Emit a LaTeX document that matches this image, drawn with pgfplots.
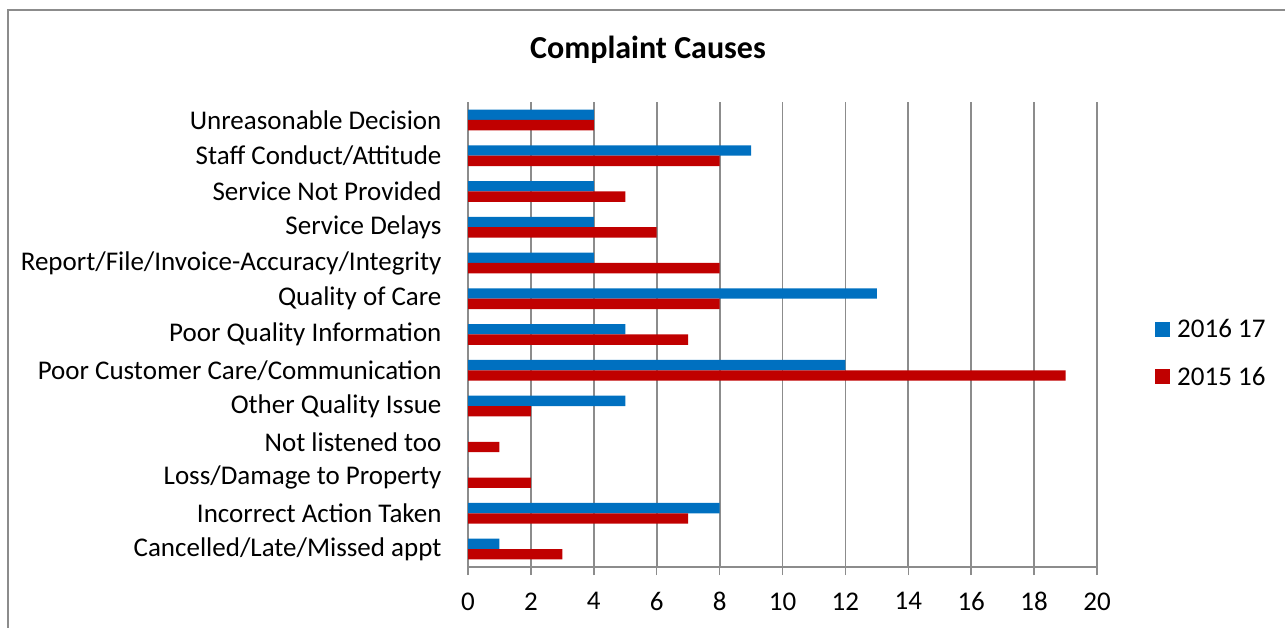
\documentclass[border=0pt]{standalone}
\usepackage{pgfplots}
\pgfplotsset{compat=1.18}
\usepackage{fontspec}
\setmainfont{Carlito}
\definecolor{cblue}{HTML}{0070C0}
\definecolor{cred}{HTML}{C00000}
\definecolor{cgray}{HTML}{8C8C8C}
\pgfplotstableread{
y a b
0 1 3
1 8 7
2 0 2
3 0 1
4 5 2
5 12 19
6 5 7
7 13 8
8 4 8
9 4 6
10 4 5
11 9 8
12 4 4
}\datatable
\begin{document}
\begin{tikzpicture}[font=\fontsize{27}{32}\selectfont]
\useasboundingbox (0,0) rectangle (1285pt,627pt);
\draw[cgray, line width=2pt] (8pt,-5pt) -- (8pt,617pt) -- (1290pt,617pt);
\node[font=\fontsize{32}{38}\selectfont\bfseries] at (648pt,577pt) {Complaint Causes};
\begin{axis}[
  at={(468pt,60pt)}, anchor=south west,
  scale only axis, width=629pt, height=465pt,
  xbar, bar width=0.29,
  xmin=0, xmax=20, ymin=-0.5, ymax=12.5,
  xtick={0,2,...,20},
  ytick={0,...,12},
  yticklabels={Cancelled/Late/Missed appt, Incorrect Action Taken, Loss/Damage to Property, Not listened too, Other Quality Issue, Poor Customer Care/Communication, Poor Quality Information, Quality of Care, Report/File/Invoice-Accuracy/Integrity, Service Delays, Service Not Provided, Staff Conduct/Attitude, Unreasonable Decision},
  minor ytick={-0.5,0.5,...,12.5},
  ytick style={draw=none},
  minor tick style={cgray, line width=1.5pt},
  minor tick length=8pt,
  xtick style={cgray, line width=1.5pt},
  major tick length=8pt,
  tick align=outside,
  axis lines*=left,
  axis line style={cgray, line width=1.8pt, -},
  xmajorgrids,
  major grid style={cgray, line width=1.8pt},
  /pgf/number format/assume math mode=true,
  ticklabel style={font=\fontsize{27}{32}\selectfont},
  xticklabel style={yshift=-14pt},
  yticklabel style={xshift=-15pt},
  legend style={at={(1,0.46)}, anchor=west, xshift=58pt, draw=none, fill=none,
    font=\fontsize{27}{32}\selectfont, row sep=24pt, inner sep=0pt},
  legend cell align=left,
  legend image code/.code={\fill[#1] (0pt,-7.5pt) rectangle (15pt,7.5pt); \path (20pt,0);},
]
\addplot[fill=cblue, draw=none, bar shift=0.145] table[x=a, y=y] {\datatable};
\addplot[fill=cred, draw=none, bar shift=-0.145] table[x=b, y=y] {\datatable};
\legend{2016 17, 2015 16}
\end{axis}
\end{tikzpicture}
\end{document}
